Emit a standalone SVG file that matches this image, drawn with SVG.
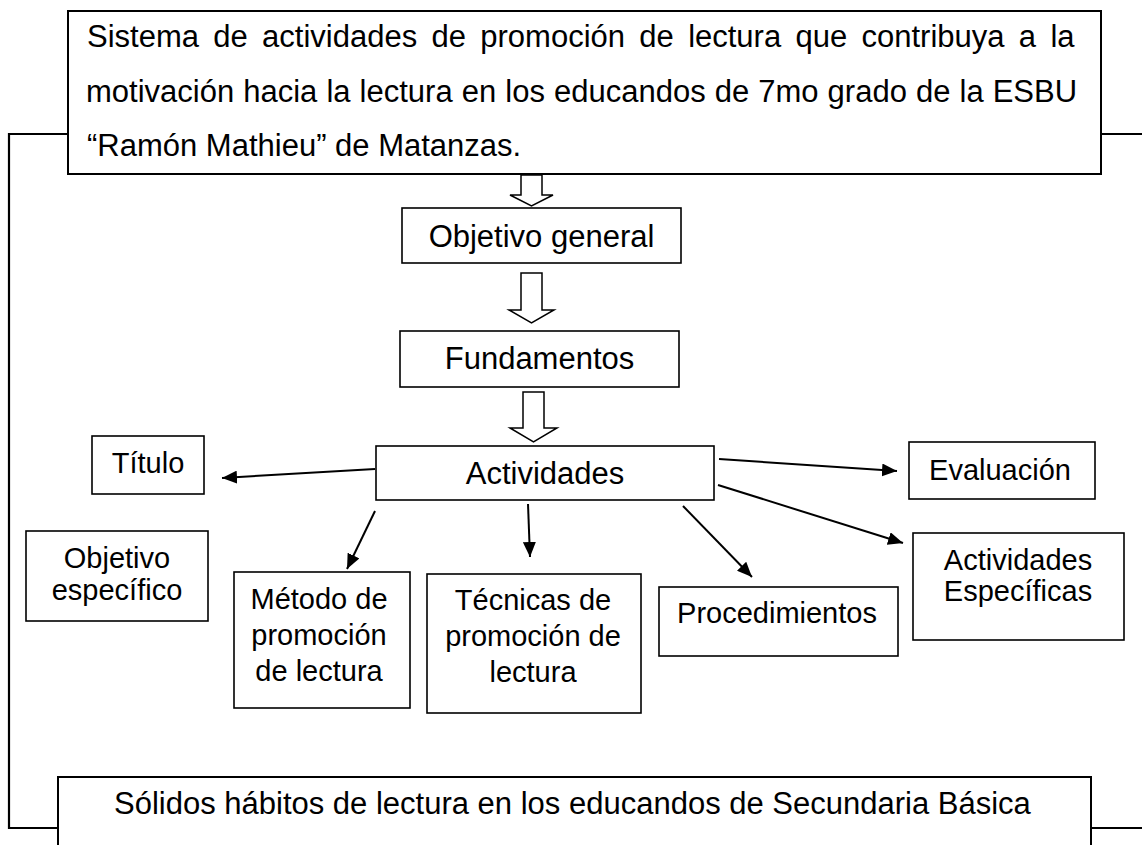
<svg xmlns="http://www.w3.org/2000/svg" width="1142" height="845" viewBox="0 0 1142 845">
<style>
text{font-family:"Liberation Sans",Arial,sans-serif;fill:#000}
.big{font-size:31px}
.sm{font-size:29px}
.c{text-anchor:middle}
.box{fill:#fff;stroke:#000;stroke-width:1.6}
.main{fill:#fff;stroke:#000;stroke-width:2}
.hollow{fill:#fff;stroke:#000;stroke-width:1.5;stroke-linejoin:miter}
.arr{stroke:#000;stroke-width:2;fill:none;marker-end:url(#ah)}
.br{stroke:#000;stroke-width:2.2;fill:none}
</style>
<defs>
<marker id="ah" markerUnits="userSpaceOnUse" markerWidth="16" markerHeight="13" refX="15" refY="6.5" orient="auto">
<path d="M0,0 L15,6.5 L0,13 z" fill="#000"/>
</marker>
</defs>
<rect width="1142" height="845" fill="#fff"/>
<g id="connectors">
<path class="br" d="M68,134 H9 V828 H58"/>
<path class="br" d="M1101,134 H1142"/>
<path class="br" d="M1091,828 H1142"/>
<polygon class="hollow" points="521,175 542,175 542,195 553,195 531.5,206 510,195 521,195"/>
<polygon class="hollow" points="521,273 542,273 542,310 554,310 531.5,323 509,310 521,310"/>
<polygon class="hollow" points="523,392 544,392 544,428 557,428 533.5,442 510,428 523,428"/>
<line class="arr" x1="375" y1="469" x2="222" y2="478"/>
<line class="arr" x1="375" y1="511" x2="347" y2="569"/>
<line class="arr" x1="528" y1="504" x2="530" y2="557"/>
<line class="arr" x1="683" y1="506" x2="752" y2="577"/>
<line class="arr" x1="719" y1="459" x2="897" y2="471"/>
<line class="arr" x1="718" y1="485" x2="903" y2="543"/>
</g>
<g id="sistema">
<rect class="main" x="68" y="11" width="1033" height="163"/>
<text class="big" x="87" y="47" word-spacing="5.7">Sistema de actividades de promoción de lectura que contribuya a la</text>
<text class="big" x="86" y="101.5" word-spacing="0.45">motivación hacia la lectura en los educandos de 7mo grado de la ESBU</text>
<text class="big" x="87" y="156">“Ramón Mathieu” de Matanzas.</text>
</g>
<g id="objetivo-general">
<rect class="box" x="402" y="208" width="279" height="55"/>
<text class="big c" x="541.5" y="247">Objetivo general</text>
</g>
<g id="fundamentos">
<rect class="box" x="400" y="331" width="279" height="56"/>
<text class="big c" x="539.5" y="369">Fundamentos</text>
</g>
<g id="actividades">
<rect class="box" x="376" y="446" width="338" height="54"/>
<text class="big c" x="545" y="484">Actividades</text>
</g>
<g id="titulo">
<rect class="box" x="92" y="436" width="112" height="58"/>
<text class="sm c" x="148" y="473">Título</text>
</g>
<g id="evaluacion">
<rect class="box" x="909" y="442" width="186" height="57"/>
<text class="sm c" x="1000" y="480">Evaluación</text>
</g>
<g id="objetivo-especifico">
<rect class="box" x="26" y="531" width="182" height="90"/>
<text class="sm c" x="117" y="568">Objetivo</text>
<text class="sm c" x="117" y="600">específico</text>
</g>
<g id="metodo">
<rect class="box" x="234" y="572" width="176" height="136"/>
<text class="sm c" x="319" y="609">Método de</text>
<text class="sm c" x="319" y="645">promoción</text>
<text class="sm c" x="319" y="681">de lectura</text>
</g>
<g id="tecnicas">
<rect class="box" x="427" y="574" width="214" height="139"/>
<text class="sm c" x="533" y="610">Técnicas de</text>
<text class="sm c" x="533" y="646">promoción de</text>
<text class="sm c" x="533" y="682">lectura</text>
</g>
<g id="procedimientos">
<rect class="box" x="659" y="587" width="239" height="69"/>
<text class="sm c" x="777" y="623">Procedimientos</text>
</g>
<g id="actividades-especificas">
<rect class="box" x="913" y="533" width="211" height="107"/>
<text class="sm c" x="1018" y="570">Actividades</text>
<text class="sm c" x="1018" y="601">Específicas</text>
</g>
<g id="habitos">
<rect class="main" x="58" y="777" width="1033" height="100"/>
<text class="big" x="114" y="814">Sólidos hábitos de lectura en los educandos de Secundaria Básica</text>
</g>
</svg>
